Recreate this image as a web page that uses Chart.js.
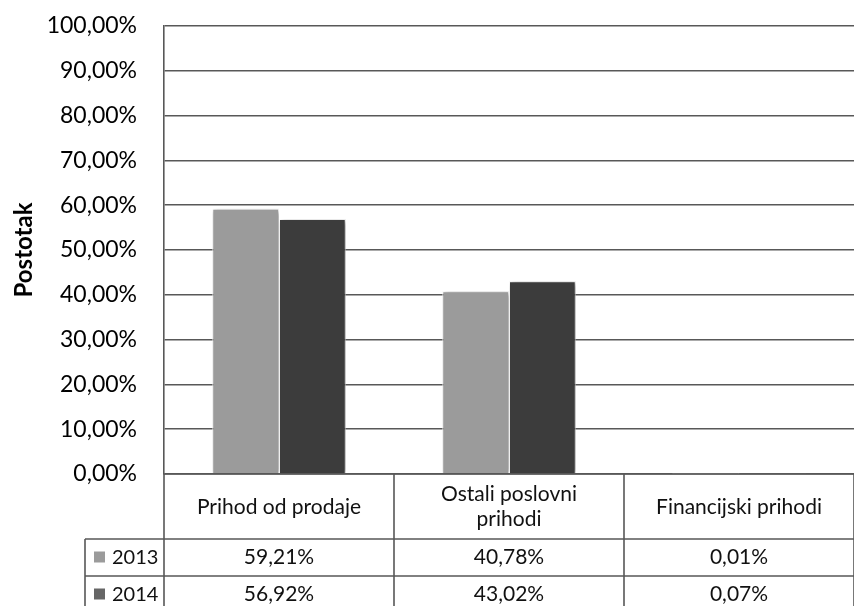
<!DOCTYPE html>
<html>
<head>
<meta charset="utf-8">
<script src="https://cdn.jsdelivr.net/npm/chart.js@4/dist/chart.umd.min.js"></script>
<style>
  html, body { margin: 0; padding: 0; background: #fff; }
  #wrap { width: 854px; height: 606px; }
</style>
</head>
<body>
<div id="wrap"><canvas id="c" width="854" height="606"></canvas></div>
<script>
// podaci
const categories = [["Prihod od prodaje"], ["Ostali poslovni", "prihodi"], ["Financijski prihodi"]];
const years = ["2013", "2014"];
const values2013 = [59.21, 40.78, 0.01];
const values2014 = [56.92, 43.02, 0.07];
const yTicks = [0, 10, 20, 30, 40, 50, 60, 70, 80, 90, 100];

const colors = ["#9b9b9b", "#3c3c3c"];
const lineColor = "#585858";
const font = "Lato, 'Open Sans', sans-serif";

const fmt = (v) => v.toFixed(2).replace(".", ",") + "%";

// sjena ispod stupaca
const shadowPlugin = {
  id: "shadow",
  beforeDatasetDraw(chart) {
    const ctx = chart.ctx;
    ctx.save();
    ctx.shadowColor = "rgba(0,0,0,0.4)";
    ctx.shadowBlur = 5;
    ctx.shadowOffsetX = 2;
    ctx.shadowOffsetY = 1;
  },
  afterDatasetDraw(chart) {
    chart.ctx.restore();
  }
};

// tablica podataka ispod grafa
const tablePlugin = {
  id: "dataTable",
  afterDraw(chart) {
    const ctx = chart.ctx;
    const x = chart.scales.x;
    const area = chart.chartArea;
    const n = categories.length;
    const step = (x.right - x.left) / n;
    const headBottom = area.bottom + 65;
    const rowH = 37;
    const legendLeft = 85;

    ctx.save();
    ctx.strokeStyle = lineColor;
    ctx.lineWidth = 1.6;

    ctx.beginPath();
    // vodoravne linije
    ctx.moveTo(area.left, area.bottom);
    ctx.lineTo(chart.width, area.bottom);
    ctx.moveTo(legendLeft, headBottom);
    ctx.lineTo(chart.width, headBottom);
    ctx.moveTo(legendLeft, headBottom + rowH);
    ctx.lineTo(chart.width, headBottom + rowH);
    // okomite linije
    ctx.moveTo(legendLeft, headBottom);
    ctx.lineTo(legendLeft, chart.height);
    for (let i = 0; i <= n; i++) {
      const cx = Math.round(x.left + step * i);
      ctx.moveTo(cx, area.bottom);
      ctx.lineTo(cx, chart.height);
    }
    ctx.stroke();

    ctx.fillStyle = "#111";
    ctx.textAlign = "center";
    ctx.textBaseline = "middle";
    ctx.font = "21px " + font;

    categories.forEach((lines, i) => {
      const cx = x.getPixelForValue(i);
      const mid = area.bottom + 33;
      lines.forEach((t, j) => {
        ctx.fillText(t, cx, mid + (j - (lines.length - 1) / 2) * 25);
      });
      [values2013, values2014].forEach((vals, r) => {
        ctx.fillText(fmt(vals[i]), cx, headBottom + rowH * r + rowH / 2);
      });
    });

    // legenda u tablici
    ctx.textAlign = "left";
    ctx.font = "20px " + font;
    years.forEach((y, r) => {
      const cy = headBottom + rowH * r + rowH / 2;
      ctx.fillStyle = r === 0 ? colors[0] : "#666";
      ctx.fillRect(94, cy - 6, 11, 11);
      ctx.fillStyle = "#111";
      ctx.fillText(y, 112, cy);
    });
    ctx.restore();
  }
};

new Chart(document.getElementById("c"), {
  type: "bar",
  data: {
    labels: categories.map((l) => l.join(" ")),
    datasets: [
      { label: years[0], data: values2013, backgroundColor: colors[0], borderColor: "#ffffff", borderWidth: 1 },
      { label: years[1], data: values2014, backgroundColor: colors[1], borderColor: "#ffffff", borderWidth: 1 }
    ]
  },
  options: {
    responsive: false,
    animation: false,
    layout: { padding: { top: 26, bottom: 132, left: 0, right: 0 } },
    datasets: { bar: { categoryPercentage: 0.58, barPercentage: 1 } },
    plugins: { legend: { display: false }, tooltip: { enabled: false } },
    scales: {
      x: { display: false },
      y: {
        min: 0,
        max: 100,
        afterFit: (s) => { s.width = 164; s.paddingTop = 0; s.paddingBottom = 0; },
        afterBuildTicks: (s) => { s.ticks = yTicks.map((v) => ({ value: v })); },
        ticks: {
          color: "#000",
          padding: 27,
          font: { family: font, size: 23 },
          callback: (v) => fmt(v)
        },
        grid: { color: lineColor, lineWidth: 1.6, drawTicks: false },
        border: { color: lineColor, width: 1.6 },
        title: {
          display: true,
          text: "Postotak",
          color: "#000",
          font: { family: font, size: 24, weight: "bold" },
          padding: { top: 10, bottom: 0 }
        }
      }
    }
  },
  plugins: [shadowPlugin, tablePlugin]
});
</script>
</body>
</html>
